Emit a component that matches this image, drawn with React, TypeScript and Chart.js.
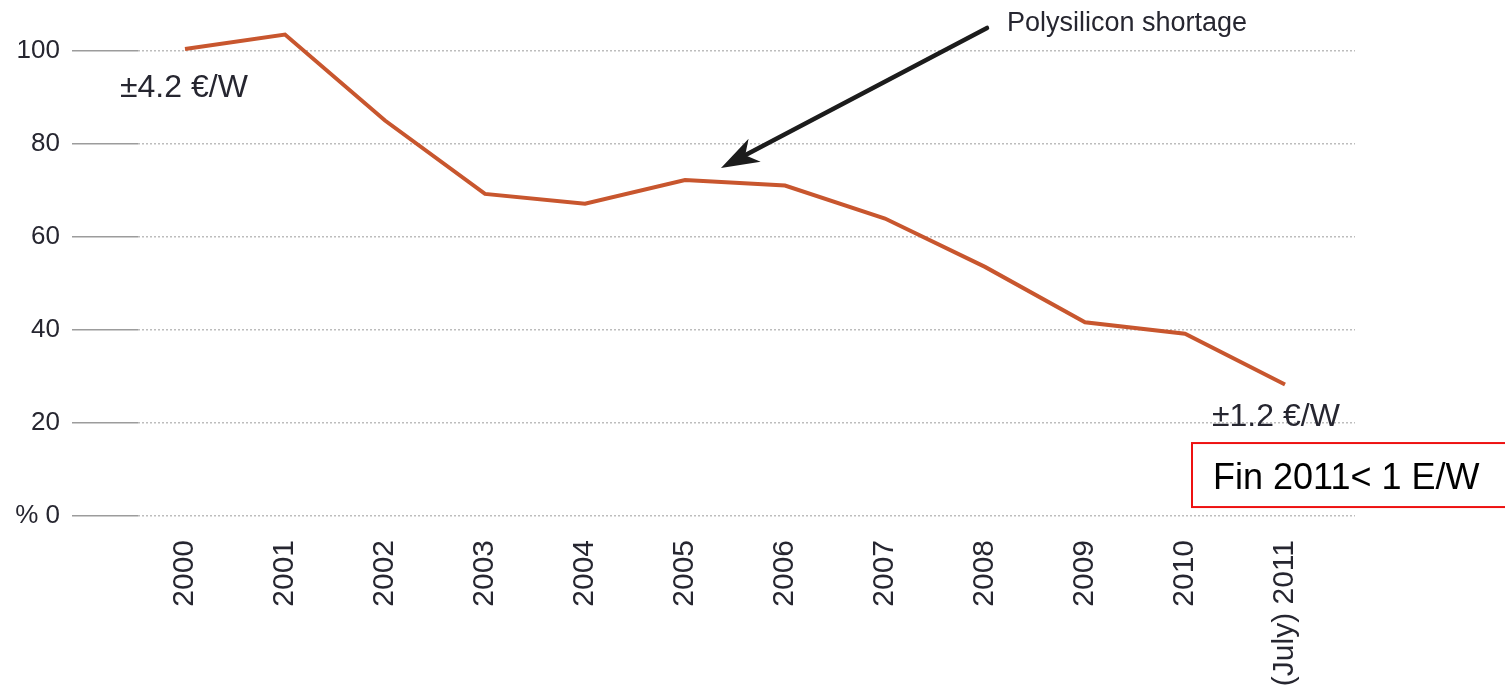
import React, { useEffect, useRef } from "react";
import { Chart, registerables } from "chart.js";

Chart.register(...registerables);

// Module price index (2000 = ~100 %)
const yearLabels = [
  "2000", "2001", "2002", "2003", "2004", "2005",
  "2006", "2007", "2008", "2009", "2010", "(July) 2011",
];
const priceIndex = [100.5, 103.6, 85.1, 69.3, 67.2, 72.3, 71.1, 64.0, 53.6, 41.7, 39.2, 28.3];
const yTickValues = [0, 20, 40, 60, 80, 100];

const startNote = "±4.2 €/W";
const endNote = "±1.2 €/W";
const arrowNote = "Polysilicon shortage";
const boxNote = "Fin 2011< 1 E/W";
const arrowYearIndex = 5;

const FONT = '"Liberation Sans", Arial, Helvetica, sans-serif';
const TEXT = "#262630";
const LINE = "#c8562e";

const notesPlugin = {
  id: "notes",
  afterDraw(chart: any) {
    const { ctx } = chart;
    const x = chart.scales.x;
    const y = chart.scales.y;
    const last = priceIndex.length - 1;
    ctx.save();

    // price labels at both ends of the series
    ctx.fillStyle = TEXT;
    ctx.font = `32px ${FONT}`;
    ctx.textAlign = "left";
    ctx.textBaseline = "alphabetic";
    ctx.fillText(startNote, x.getPixelForValue(0) - 65, y.getPixelForValue(100) + 46);
    ctx.fillText(endNote, x.getPixelForValue(last) - 73, y.getPixelForValue(priceIndex[last]) + 42);

    // arrow pointing at the 2005 bump
    const tipX = x.getPixelForValue(arrowYearIndex) + 36;
    const tipY = y.getPixelForValue(priceIndex[arrowYearIndex]) - 12;
    const tailX = tipX + 266;
    const tailY = tipY - 140;
    const len = Math.hypot(tipX - tailX, tipY - tailY);
    const dx = (tipX - tailX) / len;
    const dy = (tipY - tailY) / len;
    const px = -dy;
    const py = dx;
    const headL = 38;
    const headW = 13;
    ctx.strokeStyle = "#1c1c1c";
    ctx.fillStyle = "#1c1c1c";
    ctx.lineWidth = 4.5;
    ctx.lineCap = "round";
    ctx.beginPath();
    ctx.moveTo(tailX, tailY);
    ctx.lineTo(tipX - dx * headL * 0.7, tipY - dy * headL * 0.7);
    ctx.stroke();
    ctx.beginPath();
    ctx.moveTo(tipX, tipY);
    ctx.lineTo(tipX - dx * headL + px * headW, tipY - dy * headL + py * headW);
    ctx.lineTo(tipX - dx * headL * 0.72, tipY - dy * headL * 0.72);
    ctx.lineTo(tipX - dx * headL - px * headW, tipY - dy * headL - py * headW);
    ctx.closePath();
    ctx.fill();

    ctx.fillStyle = TEXT;
    ctx.font = `27px ${FONT}`;
    ctx.fillText(arrowNote, tailX + 20, tailY + 3);

    // boxed remark
    const bx = x.getPixelForValue(last - 1) + 7;
    const by = y.getPixelForValue(20) + 20;
    ctx.strokeStyle = "#ee1111";
    ctx.lineWidth = 2;
    ctx.strokeRect(bx, by, 400, 64);
    ctx.fillStyle = "#000000";
    ctx.font = `36px ${FONT}`;
    ctx.fillText(boxNote, bx + 21, by + 46);

    ctx.restore();
  },
};

export default function App() {
  const canvasRef = useRef<HTMLCanvasElement | null>(null);

  useEffect(() => {
    const canvas = canvasRef.current;
    if (!canvas) return;
    const chart = new Chart(canvas, {
      type: "line",
      data: {
        datasets: [
          {
            data: priceIndex.map((v, i) => ({ x: i, y: v })),
            borderColor: LINE,
            borderWidth: 4,
            pointRadius: 0,
            tension: 0,
            fill: false,
            clip: false as any,
          },
        ],
      },
      options: {
        animation: false,
        responsive: false,
        devicePixelRatio: 1,
        layout: { padding: { top: 28, right: 150, left: 0, bottom: 0 } },
        plugins: {
          legend: { display: false },
          tooltip: { enabled: false },
        },
        scales: {
          x: {
            type: "linear",
            min: -0.47,
            max: 11.7,
            afterBuildTicks: (axis: any) => {
              axis.ticks = yearLabels.map((_, i) => ({ value: i }));
            },
            afterFit: (scale: any) => {
              scale.height = 177;
            },
            grid: { display: false, drawTicks: false },
            border: { display: false },
            ticks: {
              autoSkip: false,
              minRotation: 90,
              maxRotation: 90,
              padding: 24,
              color: TEXT,
              font: { family: FONT, size: 30 },
              callback: (v: any) => yearLabels[Math.round(Number(v))] ?? "",
            },
          },
          y: {
            min: 0,
            max: 105,
            afterBuildTicks: (axis: any) => {
              axis.ticks = yTickValues.map((v) => ({ value: v }));
            },
            afterFit: (scale: any) => {
              scale.width = 138;
            },
            grid: {
              color: "#bdbdbd",
              lineWidth: 1.5,
              tickLength: 66,
              tickColor: "#9c9c9c",
              tickWidth: 1.5,
              tickBorderDash: [],
            },
            border: { display: false, dash: [2, 2] },
            ticks: {
              padding: 12,
              color: TEXT,
              font: { family: FONT, size: 26 },
              callback: (v: any) => (Number(v) === 0 ? "% 0" : String(v)),
            },
          },
        },
      },
      plugins: [notesPlugin],
    });
    return () => chart.destroy();
  }, []);

  return (
    <div style={{ position: "absolute", left: 0, top: 0, width: 1505, height: 693, background: "#fff" }}>
      <canvas ref={canvasRef} width={1505} height={693} style={{ display: "block" }} />
    </div>
  );
}
